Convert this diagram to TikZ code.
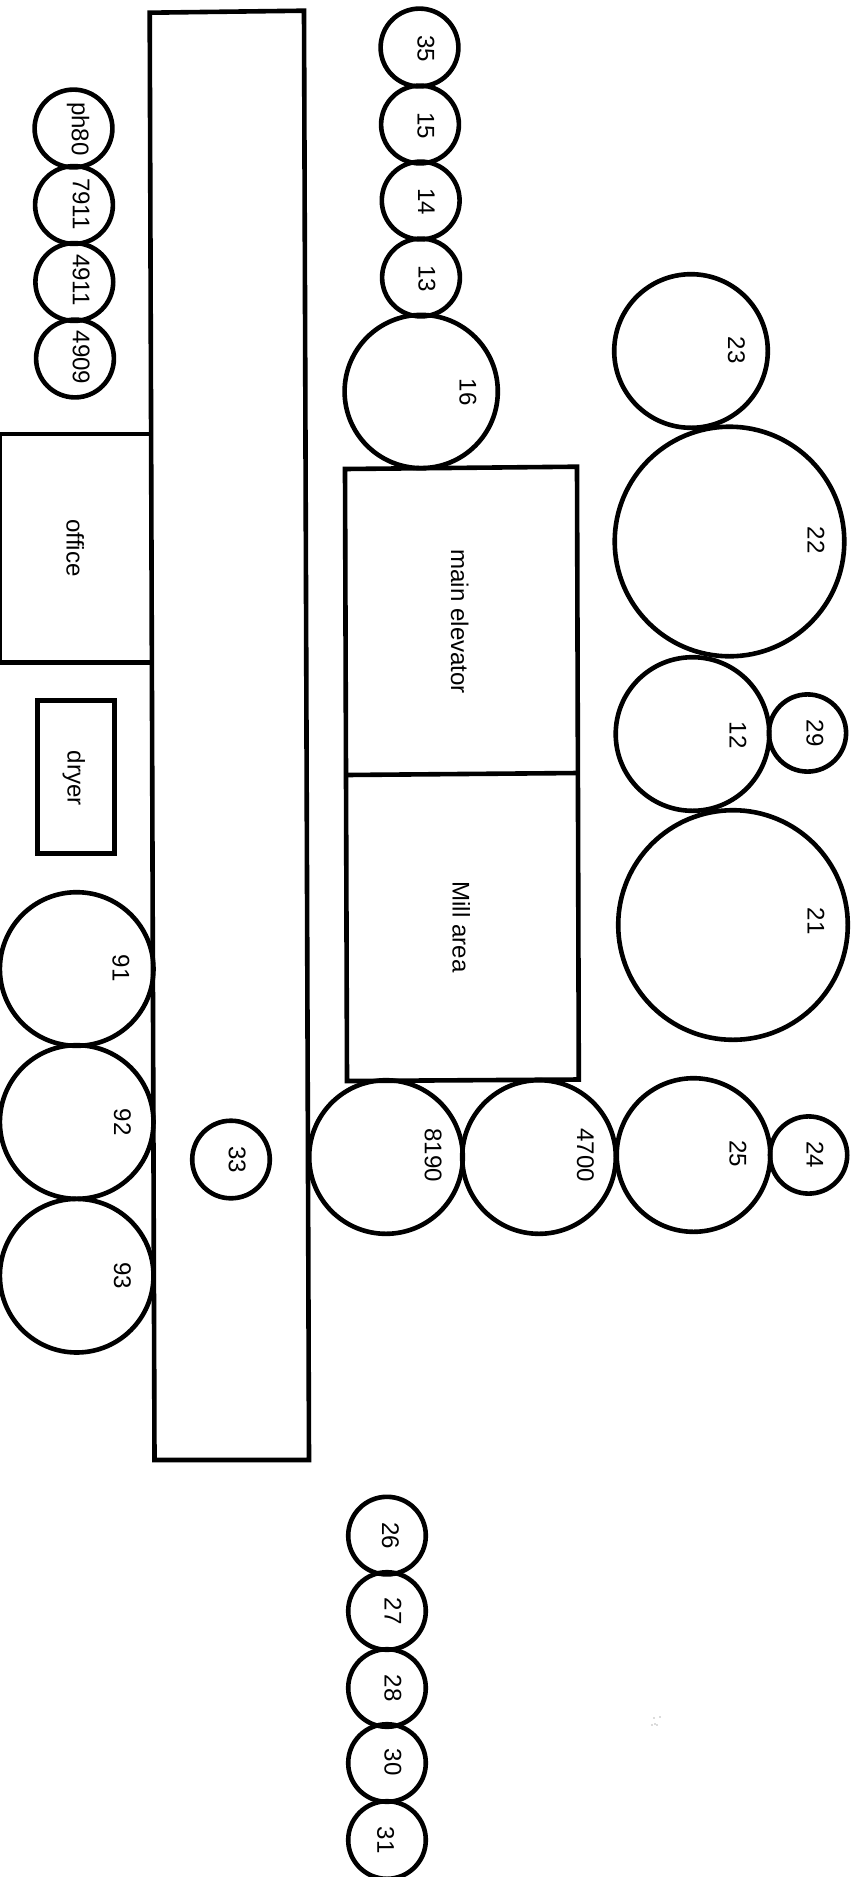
\documentclass[tikz,border=0pt]{standalone}
\usepackage{fontspec}
\setmainfont{Liberation Sans}
\tikzset{
  wall/.style={draw=black,line width=4.6pt,line join=miter},
  silo/.style={circle,draw=black,line width=4.6pt,inner sep=0pt,fill=none},
  caption/.style={anchor=base,rotate=-90,inner sep=0pt,text=black,font=\fontsize{24.1}{28}\selectfont},
  speck/.style={fill=black!60,inner sep=0pt,minimum size=1.2pt,circle}
}
% #1 id, #2 cx, #3 cy, #4 radius, #5 text, #6 baseline x, #7 text centre y
\newcommand{\silobin}[7]{%
  \node[silo,minimum size={2*#4 pt}] (c#1) at (#2,#3) {};
  \node[caption] (t#1) at (#6,#7) {#5};
}
\begin{document}
\begin{tikzpicture}[x=1pt,y=-1pt]
\useasboundingbox (0,0) rectangle (854,1877);
% long shed
\draw[wall] (149.7,12.7) -- (304,10.7) -- (309,1460) -- (154.5,1460) -- cycle;
% office, dryer
\draw[wall] (152,434) -- (-0.5,434) -- (-0.5,662.7) -- (153,662.7);
\node[caption] (toffice) at (66.7,548) {office};
\draw[wall] (37.7,700.3) rectangle (114.7,853.7);
\node[caption] (tdryer) at (67.7,778.3) {dryer};
% main elevator and mill
\draw[wall] (345,469) -- (577,466.7) -- (578.8,1079.5) -- (347,1081) -- cycle;
\draw[wall] (346,775) -- (578,773);
\node[caption] (tmain) at (451,621.7) {main elevator};
\node[caption] (tmill) at (452.6,927) {Mill area};
% circles
\silobin{35}{419.5}{47.5}{38.9}{35}{417.5}{48.7}
\silobin{15}{420}{124.5}{38.9}{15}{417.5}{126}
\silobin{14}{420.7}{200.5}{38.9}{14}{418.1}{201.7}
\silobin{13}{421}{277.5}{38.9}{13}{418.5}{278.7}
\silobin{16}{421.2}{391.5}{76.6}{16}{459.7}{392}
\silobin{ph80}{73.5}{128.5}{38.9}{ph80}{71.8}{129}
\silobin{7911}{74}{205}{38.9}{7911}{72.8}{204}
\silobin{4911}{74.3}{282}{38.9}{4911}{72.8}{280}
\silobin{4909}{75}{358.5}{38.9}{4909}{72.8}{357.5}
\silobin{23}{691}{351}{76.8}{23}{728}{350}
\silobin{22}{729.5}{541.5}{114.8}{22}{807.5}{540}
\silobin{12}{692.5}{734}{76.8}{12}{729.5}{735}
\silobin{29}{807.5}{733}{38.6}{29}{806.5}{733}
\silobin{21}{733}{925}{114.8}{21}{807.5}{921}
\silobin{25}{693.5}{1155}{76.8}{25}{729.5}{1153.6}
\silobin{24}{808.6}{1155}{38.6}{24}{806.5}{1154.7}
\silobin{4700}{539}{1157}{76.8}{4700}{577}{1155}
\silobin{8190}{386}{1157}{76.8}{8190}{424.8}{1155}
\silobin{33}{231}{1159.5}{38.8}{33}{228.8}{1159.5}
\silobin{91}{76.7}{969}{76.8}{91}{112.5}{968}
\silobin{92}{76.7}{1122}{76.8}{92}{114}{1122}
\silobin{93}{76.7}{1275.7}{76.8}{93}{114}{1275.7}
\silobin{26}{387}{1535.6}{38.8}{26}{382}{1535.6}
\silobin{27}{387}{1611}{38.8}{27}{384.5}{1611}
\silobin{28}{387}{1688}{38.8}{28}{384.5}{1688}
\silobin{30}{387}{1763}{38.8}{30}{384.5}{1762}
\silobin{31}{387}{1840}{38.8}{31}{377.3}{1840}
% scan specks
\node[speck] (s1) at (654,1718) {};
\node[speck] (s2) at (660,1717) {};
\node[speck] (s3) at (655,1724) {};
\node[speck] (s4) at (652,1725) {};
\node[speck] (s5) at (657,1725) {};
\end{tikzpicture}
\end{document}
